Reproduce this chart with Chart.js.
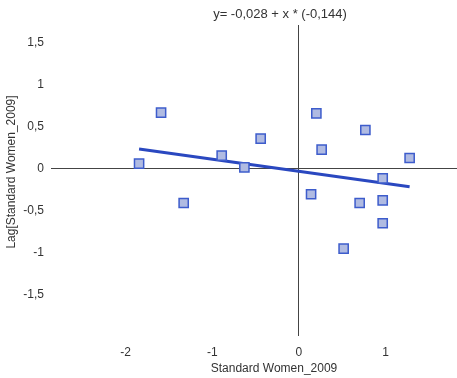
<!DOCTYPE html>
<html>
<head>
<meta charset="utf-8">
<script src="https://cdn.jsdelivr.net/npm/chart.js@4.4.0/dist/chart.umd.min.js"></script>
<style>
  html, body { margin: 0; padding: 0; background: #ffffff; overflow: hidden; }
  #wrap { width: 457px; height: 378px; }
</style>
</head>
<body>
<div id="wrap"><canvas id="chart" width="457" height="378"></canvas></div>
<script>
// Standardised share of women (2009) and its spatial lag
const standardWomen = [-1.591, 0.202, -1.845, -1.330, -0.891, -0.629, -0.441, 0.263,
                       0.768, 1.279, 0.968, 0.141, 0.702, 0.968, 0.968, 0.517];
const lagStandardWomen = [0.670, 0.663, 0.063, -0.405, 0.158, 0.020, 0.361, 0.230,
                          0.464, 0.131, -0.111, -0.301, -0.405, -0.373, -0.646, -0.949];

// Fitted regression: y = intercept + x * slope
const intercept = -0.028;
const slope = -0.144;

const xTicks = [-2, -1, 0, 1];
const yTicks = [-1.5, -1, -0.5, 0, 0.5, 1, 1.5];

const xTitle = 'Standard Women_2009';
const yTitle = 'Lag[Standard Women_2009]';

const fmt = v => String(v).replace('.', ',');
const equation = 'y= ' + fmt(intercept) + ' + x * (' + fmt(slope) + ')';

const points = standardWomen.map((x, i) => ({ x: x, y: lagStandardWomen[i] }));
const xMin = Math.min(...standardWomen);
const xMax = Math.max(...standardWomen);
const fitLine = [xMin, xMax].map(x => ({ x: x, y: intercept + slope * x }));

const FONT = '"Liberation Sans", Arial, sans-serif';
const TEXT = '#333333';

// Equation above the plot and the two axis titles
const labelsPlugin = {
  id: 'labels',
  afterDraw(chart) {
    const ctx = chart.ctx;
    ctx.save();
    ctx.fillStyle = TEXT;
    ctx.textAlign = 'center';
    ctx.textBaseline = 'middle';
    ctx.font = '13px ' + FONT;
    ctx.fillText(equation, 280, 14);
    ctx.font = '12px ' + FONT;
    ctx.fillText(xTitle, 274, 369);
    ctx.translate(12, 172);
    ctx.rotate(-Math.PI / 2);
    ctx.fillText(yTitle, 0, 0);
    ctx.restore();
  }
};

const zeroLine = c => (c.tick && c.tick.value === 0) ? '#444444' : 'rgba(0,0,0,0)';

new Chart(document.getElementById('chart'), {
  type: 'scatter',
  data: {
    datasets: [
      {
        type: 'line',
        data: fitLine,
        borderColor: '#2a48c0',
        borderWidth: 3,
        pointRadius: 0,
        fill: false,
        order: 2
      },
      {
        data: points,
        pointStyle: 'rect',
        pointRadius: 6.5,
        pointHoverRadius: 6.5,
        backgroundColor: '#b0bbe2',
        borderColor: '#3d5ccc',
        borderWidth: 1.5,
        order: 1
      }
    ]
  },
  options: {
    responsive: false,
    animation: false,
    devicePixelRatio: 1,
    layout: { autoPadding: false, padding: { top: 25, left: 0, right: 0, bottom: 0 } },
    plugins: {
      legend: { display: false },
      title: { display: false },
      tooltip: { enabled: false }
    },
    scales: {
      x: {
        type: 'linear',
        min: -2.862,
        max: 1.826,
        afterFit: s => { s.height = 42; s.paddingLeft = 0; s.paddingRight = 0; },
        afterBuildTicks: s => { s.ticks = xTicks.map(v => ({ value: v })); },
        border: { display: false },
        grid: { drawTicks: false, color: zeroLine, lineWidth: 1 },
        ticks: {
          padding: 9,
          color: TEXT,
          font: { family: FONT, size: 12 },
          maxRotation: 0,
          callback: v => fmt(v)
        }
      },
      y: {
        type: 'linear',
        min: -1.988,
        max: 1.714,
        afterFit: s => { s.width = 51; s.paddingTop = 0; s.paddingBottom = 0; },
        afterBuildTicks: s => { s.ticks = yTicks.map(v => ({ value: v })); },
        border: { display: false },
        grid: { drawTicks: false, color: zeroLine, lineWidth: 1 },
        ticks: {
          padding: 7,
          color: TEXT,
          font: { family: FONT, size: 12 },
          callback: v => fmt(v)
        }
      }
    }
  },
  plugins: [labelsPlugin]
});
</script>
</body>
</html>
